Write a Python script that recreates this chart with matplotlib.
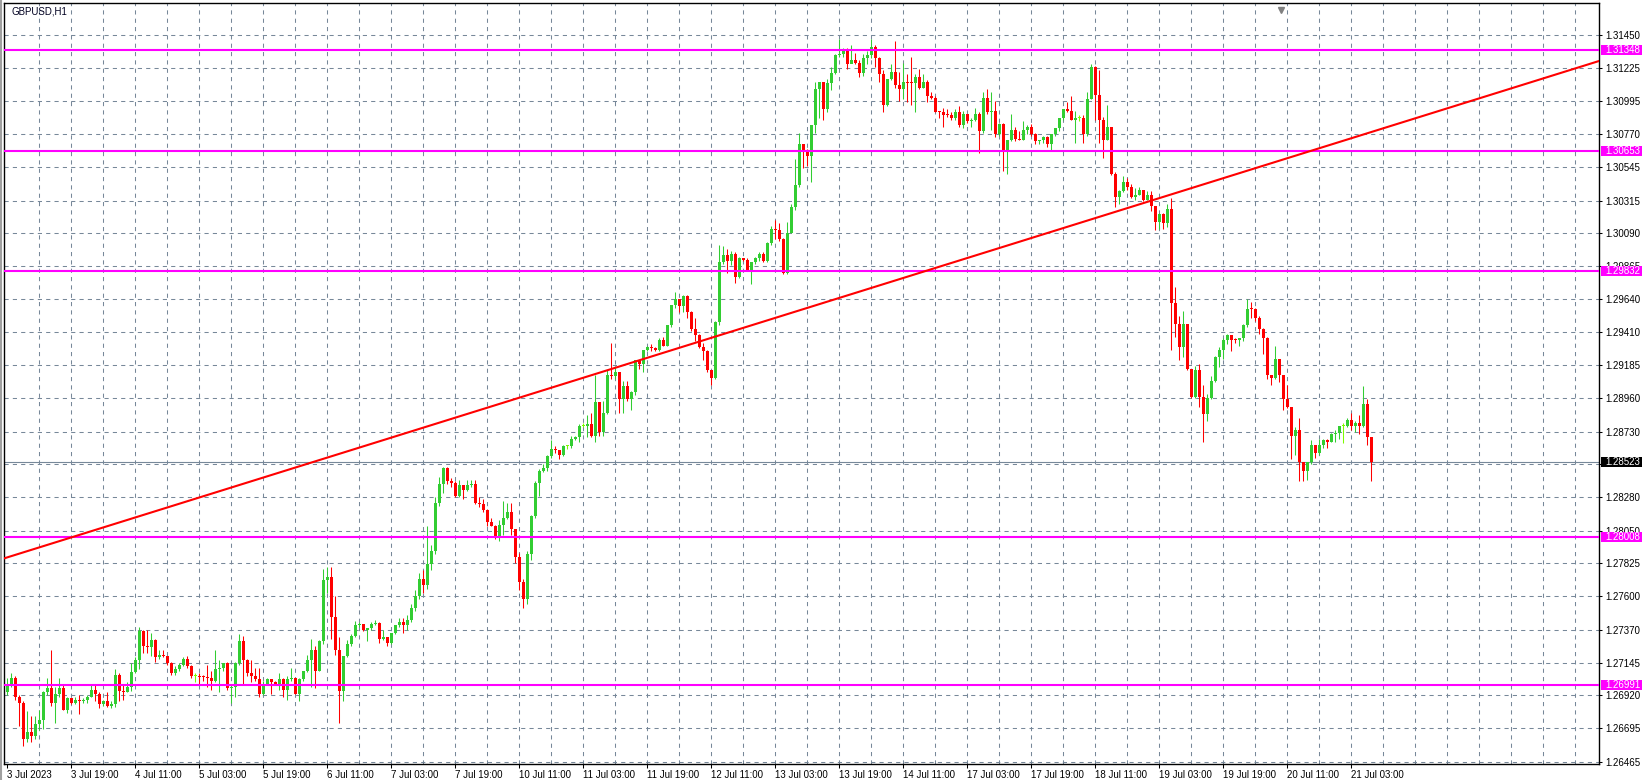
import numpy as np
import matplotlib
matplotlib.use("Agg")
import matplotlib.pyplot as plt
from matplotlib import transforms
from matplotlib.patches import Rectangle

# GBPUSD H1 bars, 3 Jul 03:00 .. 21 Jul 08:00
symbol = "GBPUSD,H1"
first_open = 1.2694

close = [
    1.2699, 1.2704, 1.2691, 1.2687, 1.2662, 1.2667, 1.2664, 1.2672, 1.2675, 1.2694,
    1.2697, 1.2687, 1.2693, 1.2697, 1.2682, 1.2690, 1.2687, 1.2689, 1.2688, 1.2689,
    1.2691, 1.2696, 1.2693, 1.2686, 1.2688, 1.2685, 1.2686, 1.2706, 1.2695, 1.2694,
    1.2698, 1.2708, 1.2716, 1.2736, 1.2726, 1.2725, 1.2730, 1.2718, 1.2720, 1.2719,
    1.2714, 1.2707, 1.2710, 1.2713, 1.2717, 1.2712, 1.2705, 1.2705, 1.27049, 1.27045,
    1.2704, 1.2702, 1.2710, 1.2711, 1.2714, 1.2697, 1.2698, 1.2714, 1.2729, 1.2716,
    1.2707, 1.2705, 1.2703, 1.2693, 1.2700, 1.2703, 1.2701, 1.2700, 1.2703, 1.2696,
    1.2703, 1.2704, 1.2693, 1.2703, 1.2709, 1.2716, 1.2723, 1.2709, 1.2729, 1.2771,
    1.2773, 1.2746, 1.2723, 1.2695, 1.2719, 1.2727, 1.2733, 1.2740, 1.2741, 1.2737,
    1.2738, 1.2741, 1.27415, 1.2731, 1.2732, 1.2728, 1.2735, 1.2740, 1.2742, 1.2740,
    1.2744, 1.2752, 1.2760, 1.2772, 1.2768, 1.2782, 1.2791, 1.2824, 1.2837, 1.2848,
    1.2839, 1.2838, 1.2829, 1.2836, 1.2833, 1.2836, 1.2837, 1.2824, 1.2823, 1.2819,
    1.2811, 1.2808, 1.2800, 1.2809, 1.2814, 1.2818, 1.2806, 1.2787, 1.2770, 1.2758,
    1.2789, 1.2815, 1.2838, 1.2846, 1.2848, 1.2856, 1.2861, 1.2860, 1.2857, 1.2863,
    1.2863, 1.2868, 1.2869, 1.2877, 1.2877, 1.2878, 1.2870, 1.2893, 1.2873, 1.2886,
    1.2912, 1.2911, 1.2914, 1.2895, 1.2904, 1.2895, 1.2900, 1.2922, 1.2919, 1.2929,
    1.2931, 1.2930, 1.2929, 1.2936, 1.2932, 1.2946, 1.2960, 1.2964, 1.2959, 1.2966,
    1.2955, 1.2943, 1.2939, 1.2931, 1.2928, 1.2915, 1.2910, 1.2948, 1.2989, 1.2994,
    1.2990, 1.2995, 1.2979, 1.2992, 1.2991, 1.2984, 1.2989, 1.2992, 1.2995, 1.2990,
    1.3002, 1.3012, 1.3011, 1.3005, 1.2982, 1.3009, 1.3027, 1.3042, 1.3070, 1.3065,
    1.3062, 1.3083, 1.3108, 1.3113, 1.3094, 1.3112, 1.3119, 1.3131, 1.3132, 1.3135,
    1.3125, 1.3128, 1.3126, 1.3119, 1.3129, 1.3131, 1.3137, 1.3129, 1.3118, 1.3097,
    1.3115, 1.3120, 1.3111, 1.3108, 1.3113, 1.3112, 1.31119, 1.3116, 1.3109, 1.3113,
    1.3103, 1.3102, 1.3092, 1.30919, 1.3090, 1.30899, 1.3088, 1.3092, 1.3083, 1.3091,
    1.3086, 1.3087, 1.3091, 1.3079, 1.3102, 1.3092, 1.3093, 1.3077, 1.3084, 1.3066,
    1.3073, 1.3080, 1.3074, 1.3073, 1.3080, 1.3082, 1.3077, 1.3072, 1.3073, 1.3075,
    1.3070, 1.3077, 1.3081, 1.3088, 1.3094, 1.3093, 1.3087, 1.3088, 1.3088, 1.3077,
    1.3101, 1.3123, 1.3104, 1.3087, 1.3073, 1.3082, 1.3050, 1.3034, 1.3038, 1.3044,
    1.3041, 1.3034, 1.3035, 1.3039, 1.3032, 1.3035, 1.3028, 1.3017, 1.3022, 1.3016,
    1.3026, 1.2961, 1.2947, 1.2931, 1.2947, 1.2916, 1.2897, 1.2915, 1.2897, 1.2885,
    1.2896, 1.2908, 1.2924, 1.2929, 1.2936, 1.2939, 1.2936, 1.29359, 1.2937, 1.2946,
    1.2957, 1.29569, 1.2951, 1.2943, 1.2937, 1.2912, 1.2910, 1.2923, 1.2912, 1.2895,
    1.2890, 1.2870, 1.2874, 1.2852, 1.2846, 1.2852, 1.2864, 1.2858, 1.2864, 1.2867,
    1.2866, 1.2871, 1.2872, 1.2877, 1.2877, 1.2881, 1.2877, 1.2879, 1.2877, 1.2892,
    1.2869, 1.2852,
]

high = [
    1.2704, 1.2707, 1.2705, 1.2692, 1.2688, 1.2681, 1.2678, 1.2678, 1.2682, 1.2695,
    1.2704, 1.2723, 1.2698, 1.2704, 1.2700, 1.2691, 1.2690, 1.2691, 1.2692, 1.2690,
    1.2692, 1.2700, 1.2700, 1.2694, 1.2689, 1.2694, 1.2688, 1.2710, 1.2707, 1.2699,
    1.2701, 1.2714, 1.2718, 1.2739, 1.2737, 1.2737, 1.2735, 1.2731, 1.2723, 1.2723,
    1.2719, 1.2715, 1.2712, 1.2714, 1.2718, 1.2719, 1.2713, 1.2707, 1.2707, 1.2706,
    1.2713, 1.2709, 1.2723, 1.2716, 1.2714, 1.2715, 1.2699, 1.2715, 1.2734, 1.2733,
    1.2717, 1.2716, 1.2711, 1.2711, 1.2702, 1.2704, 1.2702, 1.2702, 1.2707, 1.2704,
    1.2705, 1.2711, 1.2704, 1.2704, 1.2709, 1.2720, 1.2731, 1.2726, 1.2730, 1.2779,
    1.2780, 1.2780, 1.2760, 1.2732, 1.2719, 1.2730, 1.2734, 1.2743, 1.2742, 1.2741,
    1.2738, 1.2742, 1.2744, 1.2742, 1.2737, 1.2732, 1.2735, 1.2740, 1.2745, 1.2745,
    1.2747, 1.2755, 1.2764, 1.2776, 1.2778, 1.2808, 1.2795, 1.2828, 1.2842, 1.2849,
    1.2849, 1.2841, 1.2839, 1.2840, 1.2836, 1.2840, 1.2840, 1.2840, 1.2828, 1.2827,
    1.2820, 1.2814, 1.2809, 1.2812, 1.2825, 1.2824, 1.2824, 1.2806, 1.2790, 1.2772,
    1.2791, 1.2816, 1.2839, 1.2847, 1.2851, 1.2857, 1.2867, 1.2863, 1.2858, 1.2864,
    1.2864, 1.2870, 1.2870, 1.2878, 1.2879, 1.2884, 1.2886, 1.2912, 1.2893, 1.2894,
    1.2915, 1.2934, 1.2918, 1.2914, 1.2908, 1.2908, 1.2901, 1.2922, 1.2922, 1.2929,
    1.2932, 1.2933, 1.2931, 1.2937, 1.2938, 1.2946, 1.2960, 1.2969, 1.2964, 1.2967,
    1.2967, 1.2956, 1.2951, 1.2940, 1.2934, 1.2929, 1.2915, 1.2949, 1.3001, 1.3000,
    1.2998, 1.2997, 1.2996, 1.2993, 1.2992, 1.2992, 1.2989, 1.2993, 1.2996, 1.2996,
    1.3003, 1.3014, 1.3018, 1.3016, 1.3006, 1.3017, 1.3029, 1.3060, 1.3078, 1.3070,
    1.3067, 1.3083, 1.3113, 1.3113, 1.3113, 1.3115, 1.3123, 1.3132, 1.3142, 1.3136,
    1.3136, 1.3138, 1.3133, 1.3128, 1.3132, 1.3134, 1.3142, 1.3138, 1.3130, 1.3121,
    1.3115, 1.3125, 1.3141, 1.3120, 1.3126, 1.3118, 1.3130, 1.3118, 1.3122, 1.3118,
    1.3114, 1.3106, 1.3103, 1.3093, 1.3095, 1.3094, 1.3092, 1.3094, 1.3096, 1.3093,
    1.3091, 1.3088, 1.3095, 1.3092, 1.3106, 1.3108, 1.3106, 1.3100, 1.3085, 1.3085,
    1.3073, 1.3091, 1.3082, 1.3079, 1.3086, 1.3083, 1.3084, 1.3078, 1.3073, 1.3076,
    1.3076, 1.3077, 1.3081, 1.3088, 1.3094, 1.3099, 1.3103, 1.3093, 1.3090, 1.3090,
    1.3106, 1.3125, 1.3124, 1.3121, 1.3089, 1.3097, 1.3081, 1.3051, 1.3039, 1.3048,
    1.3047, 1.3043, 1.3040, 1.3041, 1.3039, 1.3038, 1.3038, 1.3028, 1.3023, 1.3023,
    1.3029, 1.3033, 1.2972, 1.2952, 1.2956, 1.2947, 1.2916, 1.2918, 1.2919, 1.2905,
    1.2899, 1.2911, 1.2925, 1.2931, 1.2937, 1.2940, 1.2939, 1.2937, 1.2937, 1.2947,
    1.2964, 1.2962, 1.2958, 1.2952, 1.2944, 1.2938, 1.2912, 1.2932, 1.2923, 1.2912,
    1.2905, 1.2890, 1.2876, 1.2882, 1.2852, 1.2852, 1.2867, 1.2864, 1.2868, 1.2868,
    1.2868, 1.2872, 1.2874, 1.2877, 1.2879, 1.2882, 1.2886, 1.2880, 1.2884, 1.2904,
    1.2895, 1.2869,
]

low = [
    1.2692, 1.2698, 1.2689, 1.2671, 1.2657, 1.2660, 1.2660, 1.2662, 1.2668, 1.2669,
    1.2692, 1.2685, 1.2673, 1.2691, 1.2682, 1.2680, 1.2686, 1.2686, 1.2679, 1.2687,
    1.2687, 1.2691, 1.2688, 1.2683, 1.2685, 1.2684, 1.2683, 1.2684, 1.2688, 1.2689,
    1.2694, 1.2695, 1.2707, 1.2710, 1.2721, 1.2721, 1.2719, 1.2715, 1.2717, 1.2718,
    1.2713, 1.2706, 1.2706, 1.2709, 1.2712, 1.2711, 1.2704, 1.2701, 1.2699, 1.2702,
    1.2698, 1.2696, 1.2701, 1.2694, 1.2709, 1.2696, 1.2687, 1.2691, 1.2713, 1.2699,
    1.2705, 1.2701, 1.2702, 1.2691, 1.2692, 1.2699, 1.2693, 1.2700, 1.2696, 1.2691,
    1.2689, 1.2702, 1.2693, 1.2688, 1.2702, 1.2708, 1.2698, 1.2697, 1.2709, 1.2727,
    1.2762, 1.2731, 1.2720, 1.2673, 1.2688, 1.2718, 1.2726, 1.2732, 1.2739, 1.2736,
    1.2729, 1.2737, 1.2740, 1.2728, 1.2730, 1.2726, 1.2727, 1.2734, 1.2739, 1.2735,
    1.2737, 1.2742, 1.2750, 1.2758, 1.2762, 1.2765, 1.2778, 1.2789, 1.2822, 1.2831,
    1.2837, 1.2835, 1.2828, 1.2828, 1.2827, 1.2832, 1.2835, 1.2823, 1.2821, 1.2818,
    1.2808, 1.2808, 1.2799, 1.2798, 1.2802, 1.2813, 1.2802, 1.2783, 1.2764, 1.2752,
    1.2755, 1.2785, 1.2814, 1.2829, 1.2845, 1.2846, 1.2855, 1.2858, 1.2854, 1.2856,
    1.2861, 1.2862, 1.2867, 1.2866, 1.2876, 1.2869, 1.2869, 1.2866, 1.2870, 1.2870,
    1.2885, 1.2909, 1.2909, 1.2886, 1.2886, 1.2894, 1.2888, 1.2898, 1.2916, 1.2914,
    1.2928, 1.2928, 1.2928, 1.2928, 1.2932, 1.2932, 1.2945, 1.2958, 1.2955, 1.2955,
    1.2951, 1.2942, 1.2935, 1.2930, 1.2922, 1.2914, 1.2905, 1.2909, 1.2946, 1.2988,
    1.2982, 1.2987, 1.2975, 1.2978, 1.2990, 1.2984, 1.2974, 1.2988, 1.2990, 1.2989,
    1.2989, 1.3001, 1.3005, 1.3004, 1.2981, 1.2981, 1.3009, 1.3025, 1.3041, 1.3054,
    1.3055, 1.3044, 1.3078, 1.3088, 1.3087, 1.3092, 1.3107, 1.3118, 1.3130, 1.3130,
    1.3122, 1.3126, 1.3125, 1.3116, 1.3117, 1.3125, 1.3129, 1.3123, 1.3113, 1.3092,
    1.3096, 1.3114, 1.3109, 1.3100, 1.3101, 1.3099, 1.3097, 1.3092, 1.3108, 1.3109,
    1.3099, 1.3101, 1.3092, 1.3088, 1.3082, 1.3089, 1.3087, 1.3087, 1.3082, 1.3081,
    1.3085, 1.3082, 1.3086, 1.3064, 1.3078, 1.3091, 1.3080, 1.3075, 1.3076, 1.3052,
    1.3050, 1.3072, 1.3072, 1.3073, 1.3073, 1.3077, 1.3076, 1.3070, 1.3070, 1.3071,
    1.3068, 1.3066, 1.3076, 1.3079, 1.3087, 1.3092, 1.3087, 1.3071, 1.3086, 1.3071,
    1.3076, 1.3101, 1.3087, 1.3071, 1.3061, 1.3073, 1.3049, 1.3027, 1.3029, 1.3037,
    1.3039, 1.3033, 1.3032, 1.3035, 1.3031, 1.3032, 1.3024, 1.3011, 1.3012, 1.3012,
    1.3013, 1.2929, 1.2938, 1.2922, 1.2924, 1.2915, 1.2896, 1.2896, 1.2890, 1.2866,
    1.2880, 1.2895, 1.2907, 1.2917, 1.2923, 1.2933, 1.2928, 1.2934, 1.2932, 1.2935,
    1.2945, 1.2951, 1.2949, 1.2940, 1.2926, 1.2909, 1.2905, 1.2909, 1.2907, 1.2888,
    1.2889, 1.2854, 1.2857, 1.2839, 1.2839, 1.2840, 1.2851, 1.2855, 1.2857, 1.2862,
    1.2862, 1.2866, 1.2866, 1.2868, 1.2865, 1.2876, 1.2874, 1.2873, 1.2871, 1.2876,
    1.2864, 1.2839,
]

# one label every 16 bars
time_labels = ["3 Jul 2023", "3 Jul 19:00", "4 Jul 11:00", "5 Jul 03:00", "5 Jul 19:00",
               "6 Jul 11:00", "7 Jul 03:00", "7 Jul 19:00", "10 Jul 11:00", "11 Jul 03:00",
               "11 Jul 19:00", "12 Jul 11:00", "13 Jul 03:00", "13 Jul 19:00", "14 Jul 11:00",
               "17 Jul 03:00", "17 Jul 19:00", "18 Jul 11:00", "19 Jul 03:00", "19 Jul 19:00",
               "20 Jul 11:00", "21 Jul 03:00"]

price_ticks = [1.31450, 1.31225, 1.30995, 1.30770, 1.30545, 1.30315, 1.30090, 1.29865,
               1.29640, 1.29410, 1.29185, 1.28960, 1.28730, 1.28505, 1.28280, 1.28050,
               1.27825, 1.27600, 1.27370, 1.27145, 1.26920, 1.26695, 1.26465]
# the 1.28505 label sits fully under the bid box in the terminal, so it is left blank
hidden_ticks = [1.28505]

levels = [1.31348, 1.30653, 1.29832, 1.28008, 1.26991]
bid = 1.28523
trend_start = (0, 1.27866)
trend_end = (398, 1.31272)

assert len(close) == len(high) == len(low) == 342

#Figure with the plot box placed like the terminal window
W, H = 1643, 780
fig = plt.figure(figsize=(W / 100, H / 100), dpi=100)
fig.patch.set_facecolor("white")
ax = fig.add_axes([4 / W, 1 - 764 / H, 1595 / W, 761 / H])
ax.set_xlim(-0.75, 398)
ax.set_ylim(1.26449, 1.31670)

px = (1.31670 - 1.26449) / 761  # price per pixel

#Grid
grid = dict(color="#778899", linewidth=0.75, linestyle=(0, (4, 4)), zorder=1)
for p in price_ticks:
    ax.axhline(p, **grid)
for k in range(8, 399, 8):
    ax.axvline(k, **grid)

#Candles
c = np.array(close)
o = np.r_[first_open, c[:-1]]  # FX hourly bars open at the previous close
idx = np.arange(len(c))
cols = np.where(c > o, "#32CD32", np.where(c < o, "#FF0000", "#7CFC00"))
ax.vlines(idx, low, high, colors=cols, linewidth=0.75, zorder=3)
body = np.maximum(np.abs(c - o), px)
ax.bar(idx, body, bottom=np.minimum(o, c), width=0.75, color=cols, linewidth=0, zorder=3)

#Lines drawn on the chart
ax.axhline(bid, color="#778899", linewidth=0.8, zorder=2)
for p in levels:
    ax.axhline(p, color="#FF00FF", linewidth=1.5, zorder=4)
ax.axline(trend_start, trend_end, color="#FF0000", linewidth=1.5, zorder=4)

#Axes
for s in ax.spines.values():
    s.set_color("black")
    s.set_linewidth(1.0)
ax.yaxis.tick_right()
ax.set_yticks(price_ticks)
ax.set_yticklabels(["" if p in hidden_ticks else f"{p:.5f}" for p in price_ticks],
                   fontfamily="Liberation Sans", fontsize=7)
ax.tick_params(axis="y", direction="out", length=2.5, width=0.75, pad=2)
ax.set_xticks(range(0, 16 * len(time_labels), 16))
ax.set_xticklabels(time_labels, ha="left", fontfamily="Liberation Sans", fontsize=7)
ax.tick_params(axis="x", direction="out", length=3, width=0.75, pad=1.5)

#Price boxes on the right scale
tr = transforms.blended_transform_factory(fig.transFigure, ax.transData)
for p, fc in [(p, "#FF00FF") for p in levels] + [(bid, "black")]:
    fig.add_artist(Rectangle((1601 / W, p - 5 * px), 41 / W, 10 * px, transform=tr,
                             facecolor=fc, edgecolor="none", zorder=5))
    fig.add_artist(plt.Text(1605 / W, p, f"{p:.5f}", transform=tr, color="white",
                            va="center", ha="left", fontfamily="Liberation Sans",
                            fontsize=7, zorder=6))

fig.text(12 / W, 1 - 12 / H, symbol, fontfamily="Liberation Sans", fontsize=7,
         va="center", ha="left", color="#000020")
fig.add_artist(plt.Line2D([1 / W, 1 / W], [0, 1], color="#A0A0A0", linewidth=1.5))
ax.plot([318.5], [1.31620], marker="v", color="#808080", markersize=5, clip_on=False, zorder=6)

fig.savefig("out.png", dpi=100)
